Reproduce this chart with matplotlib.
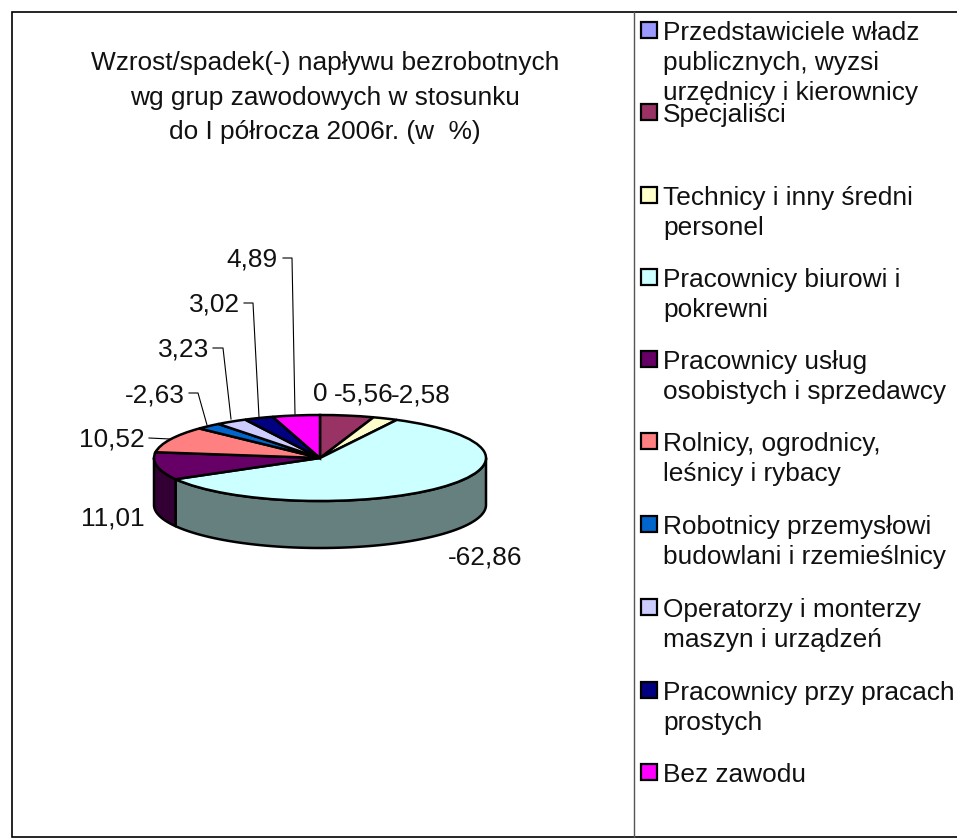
#!/usr/bin/env python3
import numpy as np
import matplotlib
matplotlib.use('Agg')
import matplotlib.pyplot as plt
from matplotlib.patches import Rectangle

plt.rcParams['font.family'] = ['Liberation Sans', 'DejaVu Sans']

title = "Wzrost/spadek(-) napływu bezrobotnych\nwg grup zawodowych w stosunku\ndo I półrocza 2006r. (w  %)"

categories = [
    "Przedstawiciele władz\npublicznych, wyzsi\nurzędnicy i kierownicy",
    "Specjaliści",
    "Technicy i inny średni\npersonel",
    "Pracownicy biurowi i\npokrewni",
    "Pracownicy usług\nosobistych i sprzedawcy",
    "Rolnicy, ogrodnicy,\nleśnicy i rybacy",
    "Robotnicy przemysłowi\nbudowlani i rzemieślnicy",
    "Operatorzy i monterzy\nmaszyn i urządzeń",
    "Pracownicy przy pracach\nprostych",
    "Bez zawodu",
]
values = [0, -5.56, -2.58, -62.86, 11.01, 10.52, -2.63, 3.23, 3.02, 4.89]
value_labels = ["0", "-5,56", "-2,58", "-62,86", "11,01", "10,52", "-2,63", "3,23", "3,02", "4,89"]
colors = ["#9999FF", "#993366", "#FFFFCC", "#CCFFFF", "#660066",
          "#FF8080", "#0066CC", "#CCCCFF", "#000080", "#FF00FF"]

# layout in image pixels
W, H = 957, 838
CX, CY, RX, RY, DEPTH = 320, 458, 166, 43, 47
label_pos = [(320, 394), (364, 394), (421, 395), (485, 557), (113, 518),
             (112, 439), (155, 395), (184, 349), (215, 304), (252, 259)]
legend_y = [31, 113, 196, 278, 360, 442, 525, 608, 691, 773]
leaders = [
    [(283, 258), (292, 258), (295, 414)],
    [(244, 303), (253, 303), (259, 417)],
    [(213, 348), (223, 348), (231, 419)],
    [(189, 393), (198, 393), (207, 425)],
    [(149, 438), (170, 439)],
]


def darken(c):
    r, g, b = matplotlib.colors.to_rgb(c)
    return (r * 0.5, g * 0.5, b * 0.5)


fig = plt.figure(figsize=(W / 100, H / 100), dpi=100, facecolor='white')

# pie axes: unit circle squeezed to an ellipse, limits chosen so that it lands on CX, CY
ax = fig.add_axes([0, 0, 1, 1], zorder=1)
sizes = np.abs(values)
ax.pie(sizes, colors=colors, startangle=90, counterclock=False, radius=1,
       wedgeprops=dict(edgecolor='black', linewidth=1.8, zorder=3))
ax.set_aspect('auto')
ax.set_xlim(-CX / RX, (W - CX) / RX)
ax.set_ylim(-(H - CY) / RY, CY / RY)
ax.axis('off')

# front wall of each slice
d = DEPTH / RY
edges = 90 - np.concatenate([[0], np.cumsum(sizes)]) / sizes.sum() * 360
for i, col in enumerate(colors):
    hi, lo = edges[i], edges[i + 1]
    for shift in (-360, 0):
        a = max(lo, -180 + shift)
        b = min(hi, 0 + shift)
        if b <= a:
            continue
        t = np.radians(np.linspace(a, b, 80))
        xs = np.concatenate([np.cos(t), np.cos(t[::-1])])
        ys = np.concatenate([np.sin(t), np.sin(t[::-1]) - d])
        ax.fill(xs, ys, facecolor=darken(col), edgecolor='black', linewidth=1.8,
                joinstyle='round', zorder=2)

# overlay in pixel coordinates for the frame and the text
ov = fig.add_axes([0, 0, 1, 1], zorder=2)
ov.set_xlim(0, W)
ov.set_ylim(H, 0)
ov.axis('off')
ov.patch.set_alpha(0)

ov.plot([W, 12, 12, W], [12, 12, 837, 837], color='black', lw=1.2, solid_joinstyle='miter')
ov.plot([634, 634], [12, 837], color='#555555', lw=1.0)

ov.text(325, 97.5, title, ha='center', va='center', fontsize=18.9, linespacing=1.57, color='#111111')

for (x, y), s in zip(label_pos, value_labels):
    ov.text(x, y, s, ha='center', va='center', fontsize=18.9, color='#111111')
for pts in leaders:
    ov.plot(*zip(*pts), color='black', lw=0.8)

for y, name, col in zip(legend_y, categories, colors):
    ov.add_patch(Rectangle((640.5, y - 9), 16, 16, facecolor=col, edgecolor='black', linewidth=1.6))
    nlines = name.count('\n')
    ov.text(663, y + 2 + nlines * 15, name, ha='left', va='center', fontsize=18.9,
            linespacing=1.3, color='#111111')

fig.savefig('out.png', dpi=100)
plt.close()
